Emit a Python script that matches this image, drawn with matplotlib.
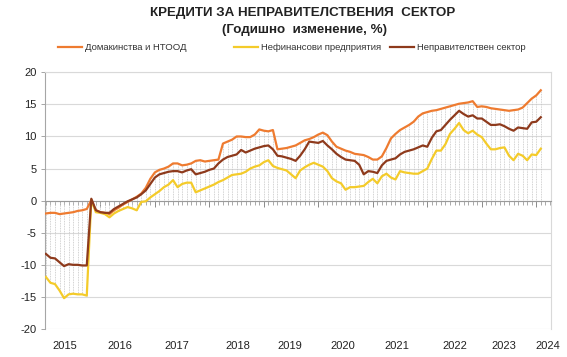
import numpy as np
import matplotlib
matplotlib.use("Agg")
import matplotlib.pyplot as plt
from matplotlib.lines import Line2D
import matplotlib.transforms as mtransforms

plt.rcParams['font.family'] = ['Liberation Sans', 'DejaVu Sans']

# Monthly data, Jan 2015 .. Feb 2024 (annual growth, %)
households = [
    -2.0, -1.9, -1.9, -2.1, -2.0, -1.9, -1.8, -1.6, -1.5, -1.3,
    0.1, -1.5, -1.8, -1.9, -2.1, -1.5, -1.1, -0.6, -0.2, 0.2,
    0.6, 1.1, 2.0, 3.4, 4.4, 4.8, 5.0, 5.3, 5.8, 5.8,
    5.5, 5.6, 5.8, 6.2, 6.3, 6.1, 6.2, 6.3, 6.4, 8.9,
    9.2, 9.5, 10.0, 10.0, 9.9, 9.9, 10.3, 11.1, 10.9, 10.8,
    11.0, 8.0, 8.1, 8.2, 8.4, 8.6, 9.0, 9.4, 9.6, 9.9,
    10.3, 10.6, 10.2, 9.2, 8.4, 8.1, 7.8, 7.6, 7.3, 7.2,
    7.1, 6.8, 6.4, 6.4, 6.9, 8.2, 9.7, 10.4, 11.0, 11.4,
    11.8, 12.3, 13.1, 13.6, 13.8, 14.0, 14.1, 14.3, 14.5, 14.7,
    14.9, 15.1, 15.2, 15.3, 15.5, 14.6, 14.7, 14.6, 14.4, 14.3,
    14.2, 14.1, 14.0, 14.1, 14.2, 14.5, 15.2, 15.9, 16.4, 17.2,
]
corporates = [
    -11.9, -12.8, -13.0, -14.0, -15.2, -14.6, -14.5, -14.6, -14.6, -14.8,
    0.1, -1.8, -1.9, -2.1, -2.6, -2.0, -1.6, -1.3, -1.0, -1.2,
    -1.5, -0.2, -0.1, 0.5, 1.0, 1.5, 2.1, 2.5, 3.2, 2.1,
    2.6, 2.8, 2.8, 1.3, 1.6, 1.9, 2.2, 2.5, 2.9, 3.2,
    3.6, 4.0, 4.1, 4.2, 4.5, 5.0, 5.3, 5.5, 6.0, 6.3,
    5.4, 5.1, 4.9, 4.7, 4.1, 3.5, 4.7, 5.2, 5.6, 5.9,
    5.6, 5.3, 4.6, 3.5, 3.0, 2.7, 1.7, 2.1, 2.1, 2.2,
    2.3, 2.9, 3.4, 2.7, 3.8, 4.2, 3.6, 3.3, 4.6, 4.4,
    4.3, 4.2, 4.2, 4.6, 5.0, 6.5, 7.8, 7.8, 8.8, 10.4,
    11.2, 12.1, 11.0, 10.5, 10.9, 10.3, 9.9, 8.9, 8.0, 8.0,
    8.2, 8.3, 7.0, 6.3, 7.3, 7.0, 6.3, 7.2, 7.1, 8.1,
]
nongov = [
    -8.3, -8.9, -9.0, -9.6, -10.2, -9.9, -10.0, -10.0, -10.1, -10.1,
    0.3, -1.5, -1.8, -1.9, -1.9, -1.3, -0.9, -0.5, -0.1, 0.2,
    0.5, 1.0, 1.6, 2.6, 3.6, 4.1, 4.3, 4.5, 4.6, 4.6,
    4.4, 4.7, 4.9, 4.1, 4.3, 4.5, 4.8, 5.0, 5.8, 6.4,
    6.8, 7.0, 7.2, 7.9, 7.5, 7.8, 8.1, 8.3, 8.5, 8.6,
    8.0, 7.0, 6.9, 6.7, 6.5, 6.2, 7.0, 8.0, 9.2, 9.1,
    9.0, 9.3, 8.6, 8.0, 7.3, 6.8, 6.4, 6.3, 6.2, 5.6,
    4.1, 4.6, 4.5, 4.3, 5.5, 6.2, 6.4, 6.6, 7.2, 7.6,
    7.8, 8.0, 8.3, 8.6, 8.4, 9.8, 10.8, 11.0, 11.8, 12.6,
    13.3, 14.0, 13.5, 13.1, 13.3, 12.8, 12.8, 12.3, 11.8, 11.8,
    11.9, 11.6, 11.2, 10.9, 11.4, 11.3, 11.2, 12.2, 12.3, 13.0,
]
series_names = ['Домакинства и НТООД', 'Нефинансови предприятия', 'Неправителствен сектор']
year_labels = ['2015', '2016', '2017', '2018', '2019', '2020', '2021', '2022', '2023', '2024']
y_ticks = [-20, -15, -10, -5, 0, 5, 10, 15, 20]

# Layout / style (positions in month-index units / pixels)
year_label_pos = [4.2, 16.3, 28.9, 42.3, 53.7, 65.4, 77.3, 90.1, 100.9, 110.6]
legend_x_px = [58, 234, 390]
colors = ['#EE7B30', '#F4CB2A', '#8E3A1C']

hh = np.array(households)
co = np.array(corporates)
ng = np.array(nongov)
x = np.arange(len(hh))

fig = plt.figure(figsize=(5.67, 3.57), dpi=100)
ax = fig.add_axes([45/567, 1-329/357, 506/567, (329-72.3)/357])

# drop lines
allv = np.vstack([hh, co, ng])
lo = np.minimum(0, allv.min(axis=0))
hi = np.maximum(0, allv.max(axis=0))
ax.vlines(x, lo, hi, colors='#c4c4c4', linewidth=0.6, linestyles=(0, (1, 1)), zorder=1)

for vals, c, lab in zip([hh, co, ng], colors, series_names):
    ax.plot(x, vals, color=c, lw=1.6, label=lab, zorder=3, solid_joinstyle='round')

ax.set_xlim(-0.2, 111.25)
ax.set_ylim(-20, 20)
ax.set_yticks(y_ticks)
ax.set_yticklabels([str(v) for v in y_ticks], fontsize=8, color='#222222')
ax.yaxis.grid(True, color='#d9d9d9', lw=0.8)
ax.set_axisbelow(True)

ax.spines['bottom'].set_position(('data', 0))
ax.spines['bottom'].set_color('#9a9a9a')
ax.spines['bottom'].set_linewidth(0.8)
ax.spines['left'].set_color('#a6a6a6')
ax.spines['left'].set_linewidth(0.8)
ax.spines['right'].set_color('#d9d9d9')
ax.spines['top'].set_color('#d9d9d9')
ax.spines['right'].set_linewidth(0.8)
ax.spines['top'].set_linewidth(0.8)

ax.set_xticks(np.arange(12, 111, 12))
ax.set_xticks(np.arange(0, 112, 1), minor=True)
ax.tick_params(axis='x', which='major', direction='out', length=4.5, width=0.7, color='#8a8a8a', labelbottom=False)
ax.tick_params(axis='x', which='minor', direction='out', length=2.8, width=0.6, color='#9a9a9a')
ax.tick_params(axis='y', which='major', direction='out', length=3, width=0.7, color='#a6a6a6', pad=3)

trans = mtransforms.blended_transform_factory(ax.transData, fig.transFigure)
for lab, p in zip(year_labels, year_label_pos):
    fig.text(p, 1-346/357, lab, transform=trans, ha='center', va='center', fontsize=8, color='#222222')

fig.text(303/567, 1-13/357, 'КРЕДИТИ ЗА НЕПРАВИТЕЛСТВЕНИЯ  СЕКТОР', ha='center', va='center',
         fontsize=9.6, fontweight='bold', color='#222222')
fig.text(304/567, 1-30/357, '(Годишно  изменение, %)', ha='center', va='center',
         fontsize=9.6, fontweight='bold', color='#222222')

for c, name, px in zip(colors, series_names, legend_x_px):
    h = Line2D([0], [0], color=c, lw=1.6)
    fig.legend([h], [name], loc='center left', bbox_to_anchor=(px/567, 1-48/357),
               frameon=False, fontsize=6.8, handlelength=2.5, handletextpad=0.35,
               borderpad=0, borderaxespad=0, labelcolor='#333333')

fig.savefig('out.png', dpi=100)
